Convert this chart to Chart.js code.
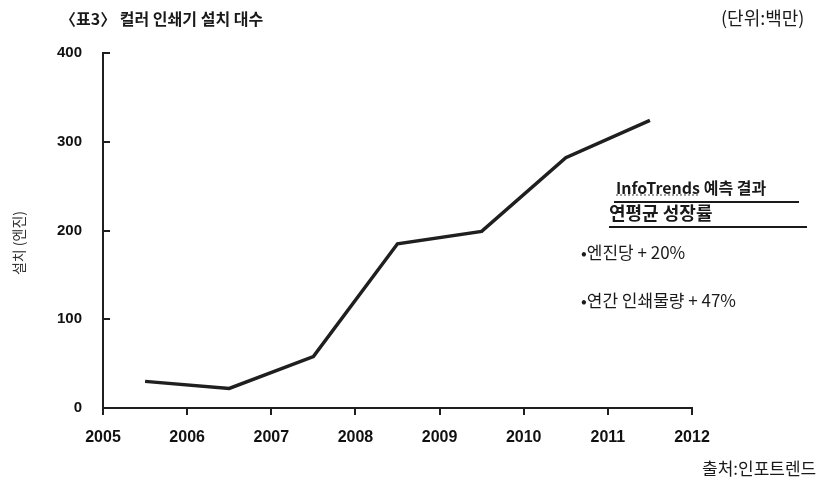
<!DOCTYPE html>
<html>
<head>
<meta charset="utf-8">
<script src="https://cdn.jsdelivr.net/npm/chart.js@4.4.0/dist/chart.umd.min.js"></script>
<style>
html, body { margin: 0; padding: 0; background: #fff; }
#wrap { position: relative; width: 820px; height: 483px; font-family: "Noto Sans CJK KR", sans-serif; color: #1a1a1a; }
canvas { position: absolute; left: 0; top: 0; }
.t { position: absolute; white-space: nowrap; line-height: 1; }
.rule { position: absolute; height: 2px; background: #1a1a1a; }
</style>
</head>
<body>
<div id="wrap">
  <canvas id="chart" width="820" height="483"></canvas>
  <div class="t" style="left:60px;top:10px;font-size:16px;font-weight:bold">〈표3〉 컬러 인쇄기 설치 대수</div>
  <div class="t" style="left:721px;top:8px;font-size:18px">(단위:백만)</div>
  <div class="t" style="left:702px;top:459px;font-size:17px">출처:인포트렌드</div>
  <div class="t" style="left:-16px;top:236px;font-size:14px;color:#333;transform:rotate(-90deg);width:68px;text-align:center">설치 (엔진)</div>
  <div class="t" style="left:616px;top:179px;font-size:16px;font-weight:bold"><span style="text-decoration:underline dotted #888">InfoTrends</span> 예측 결과</div>
  <div class="rule" style="left:614px;top:201px;width:185px"></div>
  <div class="t" style="left:609px;top:203px;font-size:18px;font-weight:bold">연평균 성장률</div>
  <div class="rule" style="left:609px;top:226px;width:198px"></div>
  <div class="t" style="left:581px;top:243px;font-size:17px">•엔진당 + 20%</div>
  <div class="t" style="left:581px;top:291px;font-size:17px">•연간 인쇄물량 + 47%</div>
</div>
<script>
// 컬러 인쇄기 설치 대수 (백만), 각 연도 중간에 찍힌 점
var years = [2005.5, 2006.5, 2007.5, 2008.5, 2009.5, 2010.5, 2011.5];
var installs = [30, 22, 58, 185, 199, 282, 324];
var yearTicks = [2005, 2006, 2007, 2008, 2009, 2010, 2011, 2012];
var valueTicks = [0, 100, 200, 300, 400];

var ink = '#1f1f1f';

// y축 눈금은 안쪽(오른쪽)으로
var innerTicks = {
    id: 'innerTicks',
    afterDraw: function (chart) {
        var ctx = chart.ctx;
        var y = chart.scales.y;
        var left = chart.chartArea.left;
        ctx.save();
        ctx.strokeStyle = ink;
        ctx.lineWidth = 2;
        valueTicks.forEach(function (v) {
            if (v === 0) return;
            var py = Math.round(y.getPixelForValue(v));
            ctx.beginPath();
            ctx.moveTo(left, py);
            ctx.lineTo(left + 7, py);
            ctx.stroke();
        });
        ctx.restore();
    }
};

var config = {
    type: 'line',
    data: {
        datasets: [{
            data: years.map(function (yr, i) { return { x: yr, y: installs[i] }; }),
            borderColor: ink,
            borderWidth: 3.5,
            pointRadius: 0,
            tension: 0,
            fill: false
        }]
    },
    options: {
        responsive: false,
        animation: false,
        layout: { padding: { left: 0, right: 128, top: 53, bottom: 0 } },
        plugins: {
            legend: { display: false },
            tooltip: { enabled: false }
        },
        scales: {
            x: {
                type: 'linear',
                min: 2005,
                max: 2012,
                afterBuildTicks: function (scale) {
                    scale.ticks = yearTicks.map(function (v) { return { value: v }; });
                },
                afterFit: function (scale) { scale.height = 75; },
                grid: { display: true, drawOnChartArea: false, drawTicks: true, tickLength: 7, color: ink, lineWidth: 2 },
                border: { display: true, color: ink, width: 2 },
                ticks: {
                    padding: 13,
                    color: '#111',
                    font: { family: 'Liberation Sans', size: 16, weight: 'bold' },
                    callback: function (v) { return String(v); }
                }
            },
            y: {
                min: 0,
                max: 400,
                afterBuildTicks: function (scale) {
                    scale.ticks = valueTicks.map(function (v) { return { value: v }; });
                },
                afterFit: function (scale) { scale.width = 103; },
                grid: { display: false },
                border: { display: true, color: ink, width: 2 },
                ticks: {
                    padding: 13,
                    color: '#111',
                    font: { family: 'Liberation Sans', size: 15, weight: 'bold' },
                    callback: function (v) { return String(v); }
                }
            }
        }
    },
    plugins: [innerTicks]
};

window.onload = function () {
    var ctx = document.getElementById('chart').getContext('2d');
    window.myLine = new Chart(ctx, config);
};
</script>
</body>
</html>
